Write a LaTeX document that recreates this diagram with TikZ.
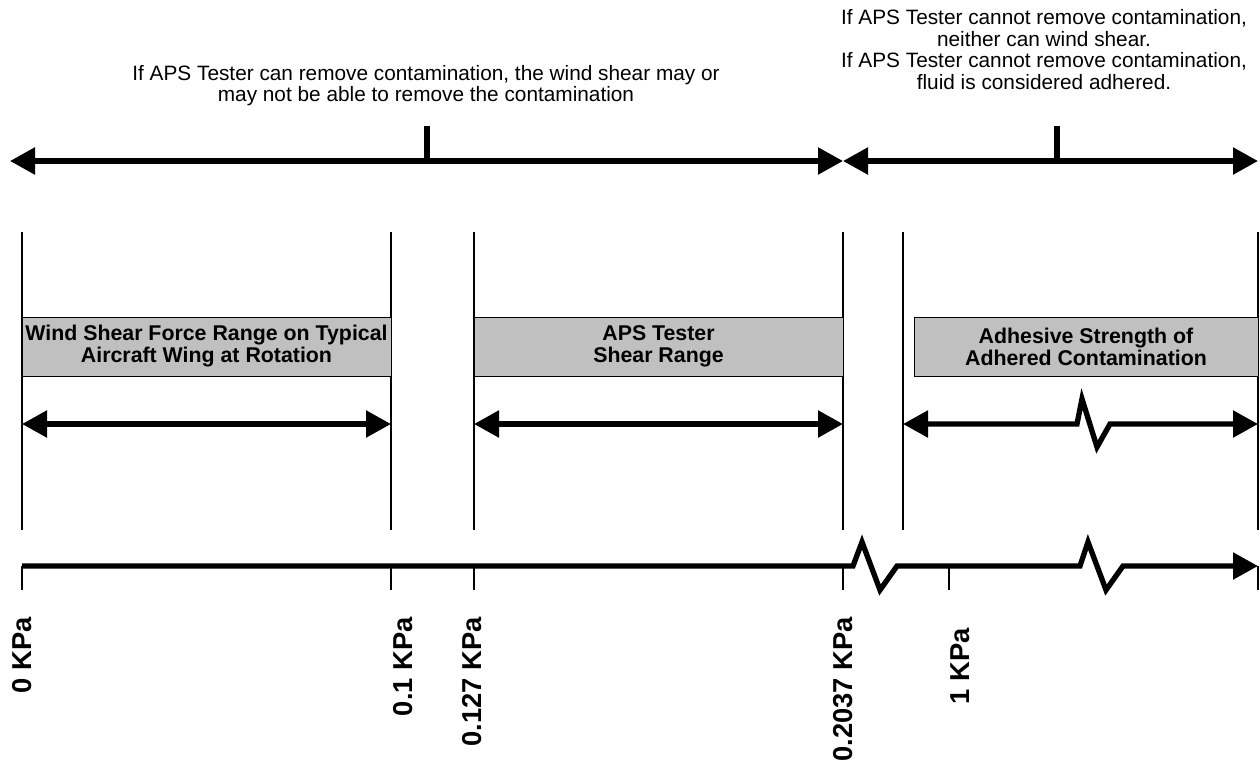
\documentclass[tikz,border=0pt]{standalone}
\usepackage{fontspec}
\setmainfont{Liberation Sans}
\usetikzlibrary{arrows.meta}

\begin{document}
\begin{tikzpicture}[x=0.75pt, y=-0.75pt,
        >={Triangle[length=18.75pt, width=19.5pt]},
        bar/.style={line width=4pt},
        guide/.style={line width=0.8pt},
        rangebox/.style={draw, line width=0.75pt,
                         fill={rgb,255:red,192;green,192;blue,192},
                         minimum height=44.25pt, inner sep=0pt, align=center,
                         font=\fontsize{16}{16.5}\selectfont\bfseries},
        note/.style={align=center, inner sep=0pt,
                     font=\fontsize{15.6}{16.2}\selectfont},
        kpa/.style={rotate=90, anchor=east, inner sep=0pt,
                    font=\fontsize{20.5}{24}\selectfont\bfseries}]
      \useasboundingbox (0,0) rectangle (1260,772);
      % notes above the ranges
      \node[note] (note1) at (426,85.5)
        {If APS Tester can remove contamination, the wind shear may or\\
         may not be able to remove the contamination};
      \node[note] (note2) at (1044,49.5)
        {If APS Tester cannot remove contamination,\\
         neither can wind shear.\\
         If APS Tester cannot remove contamination,\\
         fluid is considered adhered.};
      % top arrows
      \coordinate (a1) at (10,161);
      \coordinate (a2) at (843,161);
      \coordinate (a3) at (1258,161);
      \coordinate (m1) at (427,126);
      \coordinate (m2) at (1057,126);
      \draw[bar, <->] (a1) -- (a2);
      \draw[bar, <->] (a2) -- (a3);
      \draw[bar] (m1) -- (m1 |- a1);
      \draw[bar] (m2) -- (m2 |- a2);
      % guide lines
      \foreach \x/\n in {22/g0, 391/g1, 474/g2, 843/g3, 903/g4, 1258/g5} {
        \coordinate (\n top) at (\x,232);
        \coordinate (\n bot) at (\x,530);
        \draw[guide] (\n top) -- (\n bot);
      }
      % range boxes
      \node[rangebox, minimum width=276.75pt] (wind) at (206.5,346.5)
        {Wind Shear Force Range on Typical\\Aircraft Wing at Rotation};
      \node[rangebox, minimum width=276.75pt] (aps) at (658.5,346.5)
        {APS Tester\\Shear Range};
      \node[rangebox, minimum width=258pt] (adh) at (1086,346.5)
        {Adhesive Strength of\\Adhered Contamination};
      % range arrows
      \coordinate (r0) at (22,424);
      \coordinate (r1) at (391,424);
      \coordinate (r2) at (474,424);
      \coordinate (r3) at (843,424);
      \coordinate (r4) at (903,424);
      \coordinate (r5) at (1258,424);
      \draw[bar, <->] (r0) -- (r1);
      \draw[bar, <->] (r2) -- (r3);
      \draw[bar, <->] (r4) -- (1077,424) -- (1082,399) -- (1097,447)
        -- (1110,424) -- (r5);
      % scale
      \coordinate (s0) at (22,566);
      \coordinate (s5) at (1258,566);
      \draw[bar, ->] (s0) -- (853,566) -- (862,542) -- (880,590) -- (897,566)
        -- (1080,566) -- (1088,542) -- (1106,590) -- (1123,566) -- (s5);
      \foreach \x/\n in {22/k0, 391/k1, 474/k2, 843/k3, 949/k4, 1258/k5} {
        \coordinate (\n) at (\x,566);
        \draw[guide] (\n) -- ++(0,24);
      }
      % scale labels
      \node[kpa] (l0) at (22,617)  {0 KPa};
      \node[kpa] (l1) at (403,617) {0.1 KPa};
      \node[kpa] (l2) at (472,617) {0.127 KPa};
      \node[kpa] (l3) at (843,617) {0.2037 KPa};
      \node[kpa] (l4) at (960,628) {1 KPa};
    \end{tikzpicture}
\end{document}
